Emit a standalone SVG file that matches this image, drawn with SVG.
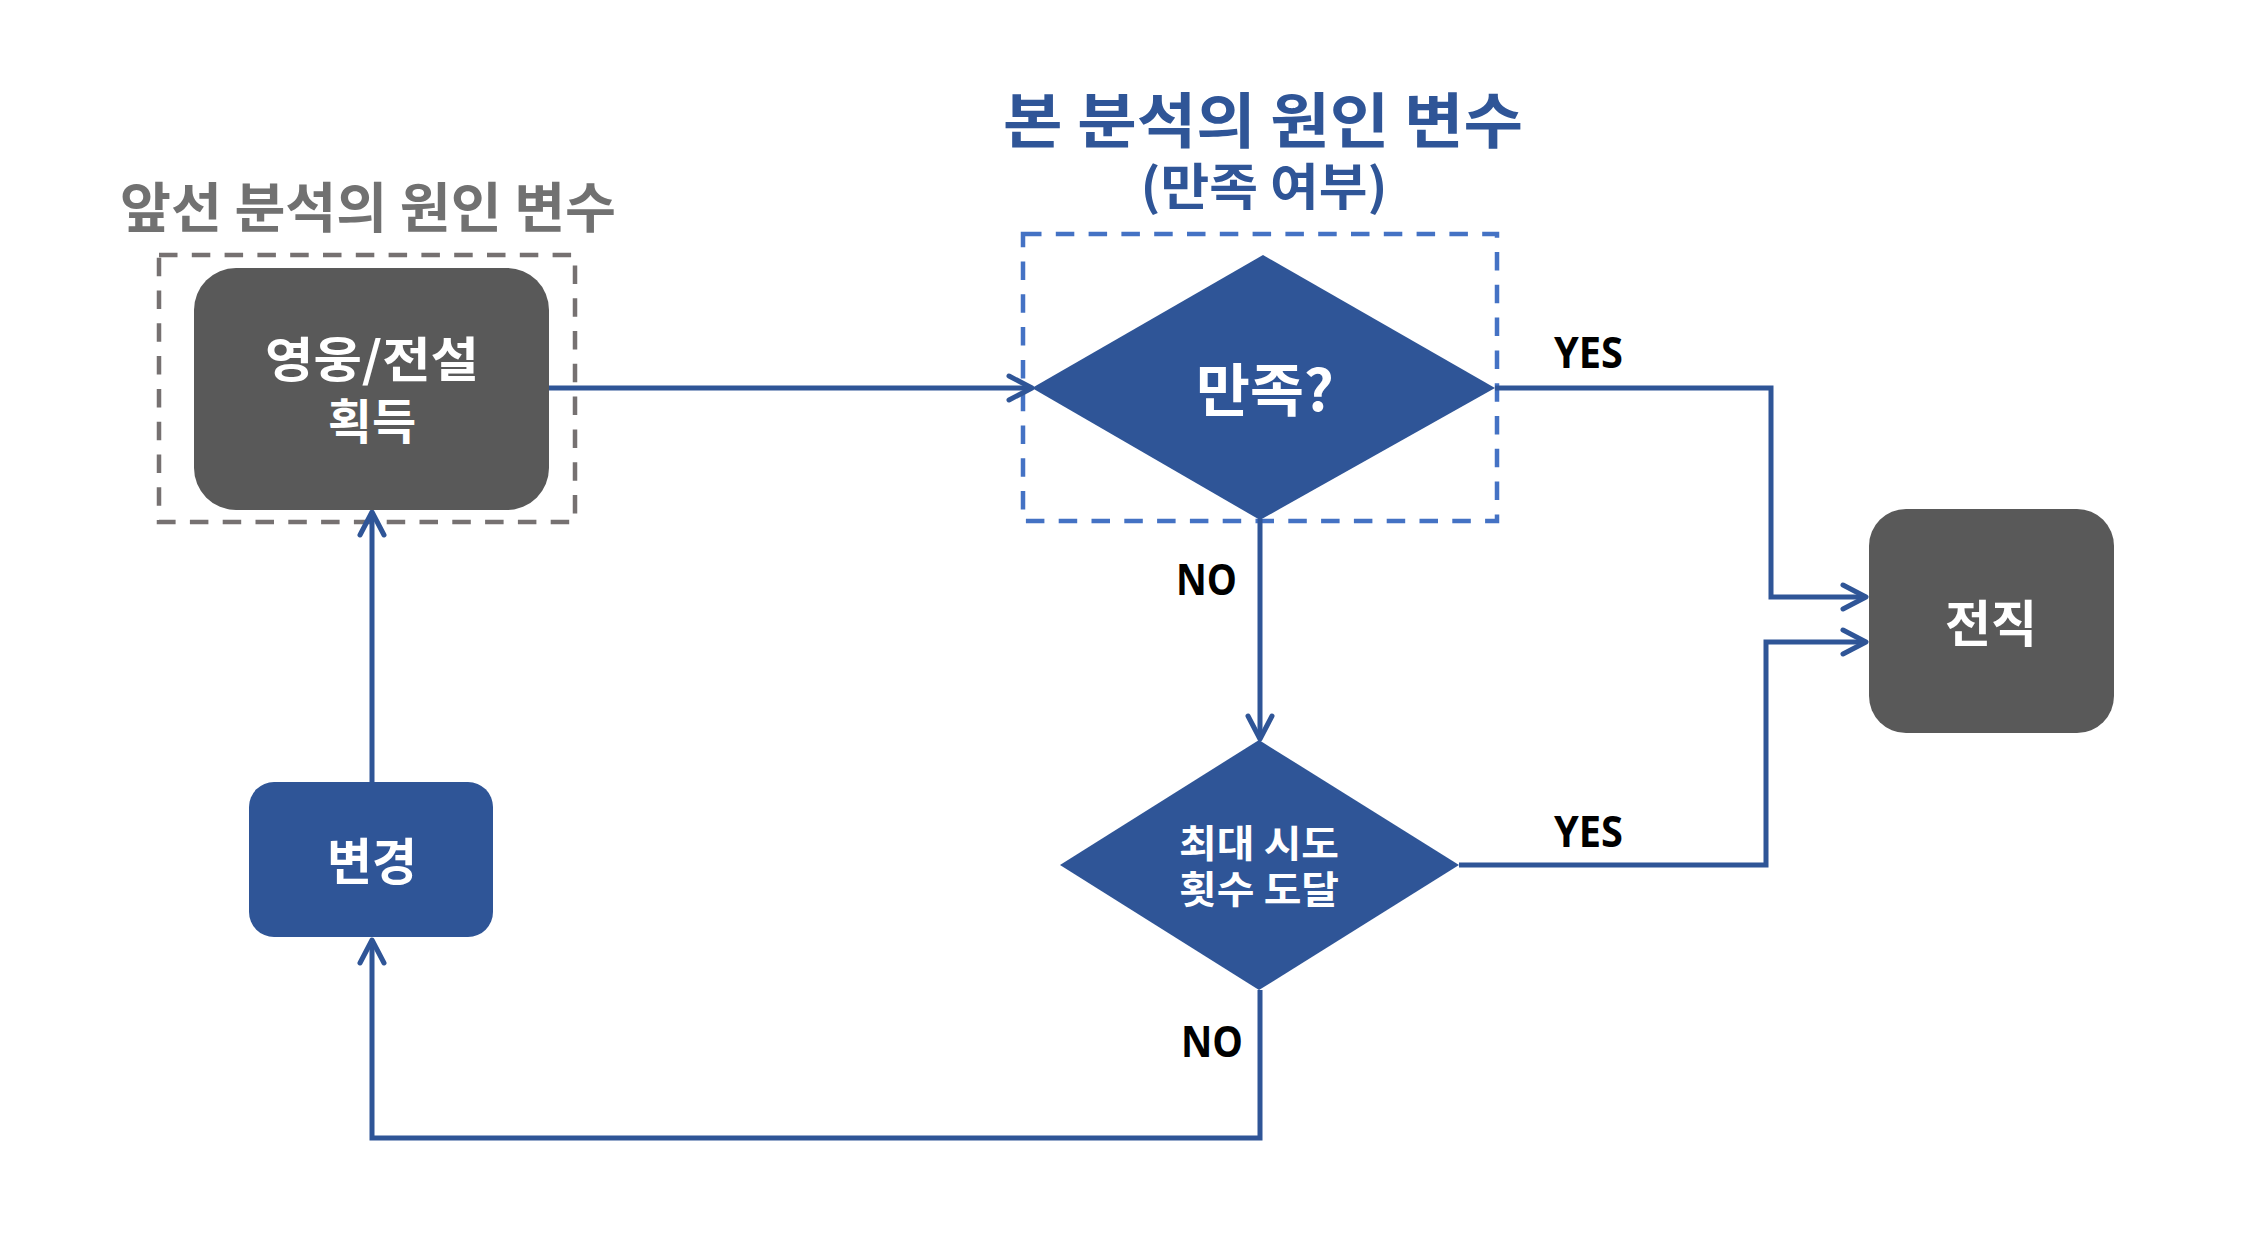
<svg xmlns="http://www.w3.org/2000/svg" width="2242" height="1247" viewBox="0 0 2242 1247">
<defs>
<style>
.kr{font-family:"Noto Sans CJK KR","Noto Sans",sans-serif;font-weight:bold}
.lbl{font-family:"Open Sans","Liberation Sans",sans-serif;font-weight:bold;font-size:43px;fill:#000}
.wt{fill:#fff}
.conn{fill:none;stroke:#2f5597;stroke-width:5;stroke-linejoin:miter}
.dash{fill:none;stroke-width:4.5;stroke-dasharray:18.5 14.3}
</style>
<marker id="arr" viewBox="-30 -16 36 32" refX="0" refY="0" markerWidth="36" markerHeight="32" markerUnits="userSpaceOnUse" orient="auto" overflow="visible">
<path d="M -23 -12 L 0 0 L -23 12" fill="none" stroke="#2f5597" stroke-width="5" stroke-linecap="round" stroke-linejoin="round"/>
</marker>
</defs>
<rect width="2242" height="1247" fill="#fff"/>

<g id="title-prev">
<text class="kr" x="368" y="228" font-size="54" fill="#717171" text-anchor="middle" textLength="496" lengthAdjust="spacingAndGlyphs">앞선 분석의 원인 변수</text>
<rect class="dash" x="159" y="255" width="416" height="267" stroke="#767171"/>
</g>

<g id="title-this">
<text class="kr" x="1263" y="143" font-size="60" fill="#2f5597" text-anchor="middle" textLength="520" lengthAdjust="spacingAndGlyphs">본 분석의 원인 변수</text>
<text class="kr" x="1264" y="205" font-size="50" fill="#2f5597" text-anchor="middle" textLength="247" lengthAdjust="spacingAndGlyphs">(만족 여부)</text>
<rect class="dash" x="1023" y="234" width="474" height="287" stroke="#4472c4"/>
</g>

<g id="connectors">
<path class="conn" d="M 549 388 H 1032" marker-end="url(#arr)"/>
<path class="conn" d="M 1495 388 H 1771 V 597 H 1866" marker-end="url(#arr)"/>
<path class="conn" d="M 1260 519 V 739" marker-end="url(#arr)"/>
<path class="conn" d="M 1459 865 H 1766 V 642 H 1866" marker-end="url(#arr)"/>
<path class="conn" d="M 1260 990 V 1138 H 372 V 940" marker-end="url(#arr)"/>
<path class="conn" d="M 372 782 V 512" marker-end="url(#arr)"/>
</g>

<g id="node-hero">
<rect x="194" y="268" width="355" height="242" rx="42" ry="42" fill="#595959"/>
<text class="kr wt" x="372" y="377" font-size="48" text-anchor="middle" textLength="214" lengthAdjust="spacingAndGlyphs">영웅/전설</text>
<text class="kr wt" x="372" y="439" font-size="48" text-anchor="middle">획득</text>
</g>

<g id="node-satisfied">
<polygon points="1032,388 1263,255 1495,388 1260,520" fill="#2f5597"/>
<text class="kr wt" x="1265" y="411" font-size="57" text-anchor="middle" textLength="138" lengthAdjust="spacingAndGlyphs">만족?</text>
</g>

<g id="node-maxtry">
<polygon points="1060,865 1259,740 1459,865 1259,990" fill="#2f5597"/>
<text class="kr wt" x="1259" y="857" font-size="38" text-anchor="middle" textLength="160" lengthAdjust="spacingAndGlyphs">최대 시도</text>
<text class="kr wt" x="1259" y="903" font-size="38" text-anchor="middle" textLength="160" lengthAdjust="spacingAndGlyphs">횟수 도달</text>
</g>

<g id="node-quit">
<rect x="1869" y="509" width="245" height="224" rx="37" ry="37" fill="#595959"/>
<text class="kr wt" x="1991" y="642" font-size="50" text-anchor="middle">전직</text>
</g>

<g id="node-change">
<rect x="249" y="782" width="244" height="155" rx="25" ry="25" fill="#2f5597"/>
<text class="kr wt" x="372" y="880" font-size="50" text-anchor="middle" textLength="90" lengthAdjust="spacingAndGlyphs">변경</text>
</g>

<g id="labels">
<text class="lbl" x="1554" y="368" textLength="69" lengthAdjust="spacingAndGlyphs">YES</text>
<text class="lbl" x="1554" y="847" textLength="69" lengthAdjust="spacingAndGlyphs">YES</text>
<text class="lbl" x="1176" y="595" textLength="61" lengthAdjust="spacingAndGlyphs">NO</text>
<text class="lbl" x="1181" y="1057" textLength="62" lengthAdjust="spacingAndGlyphs">NO</text>
</g>
</svg>
